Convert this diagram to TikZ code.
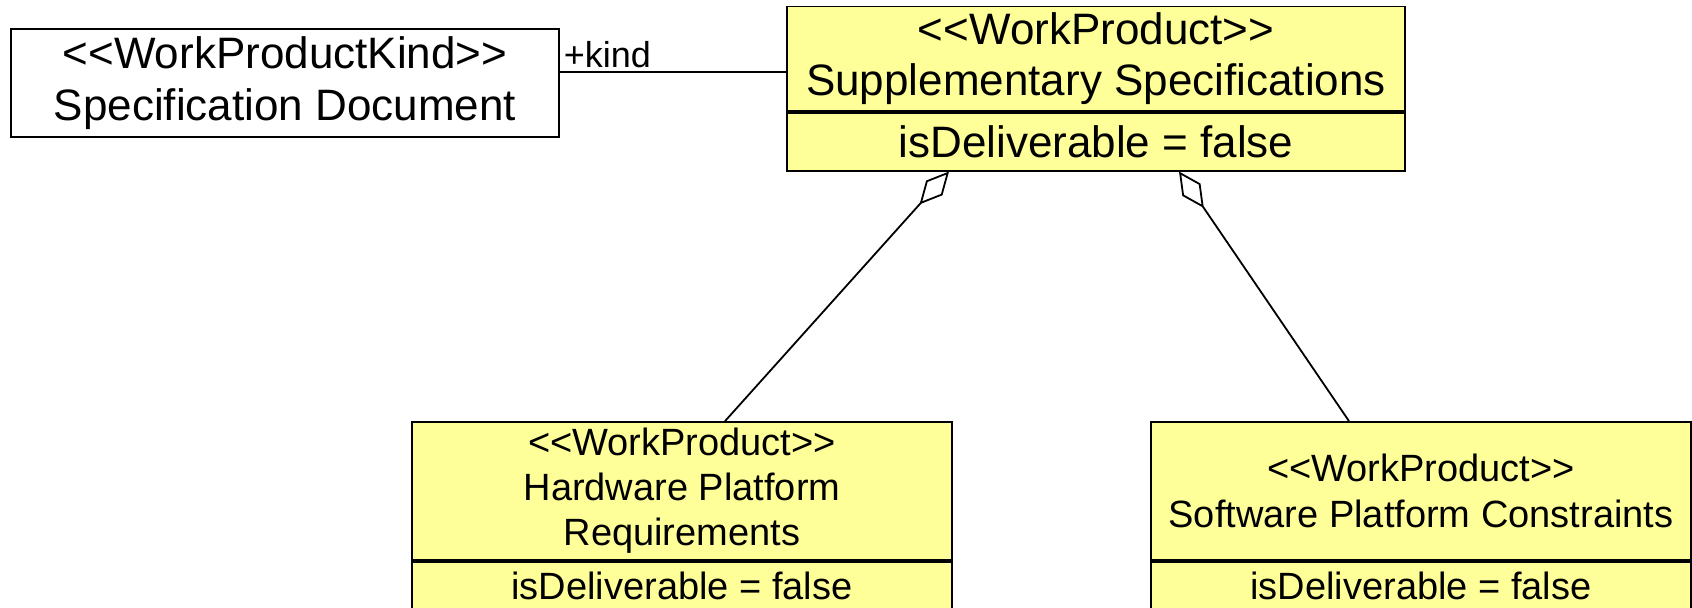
\documentclass[tikz,border=0pt]{standalone}
\usepackage{fontspec}
\setmainfont{Liberation Sans}
\usetikzlibrary{arrows.meta}
\definecolor{wpyellow}{RGB}{255,255,153}
\newcommand{\stereo}[1]{<{}<#1>{}>}
\tikzset{
  classbox/.style={draw, line width=0.85pt, rectangle, align=center, inner sep=0pt},
  wpbox/.style={classbox, fill=wpyellow},
  attrbox/.style={wpbox, anchor=north, minimum height=29pt},
  aggr/.style={line width=0.9pt, -{Diamond[open, length=22pt, width=11pt, line width=0.9pt]}}
}
\begin{document}
\begin{tikzpicture}[x=0.5pt, y=0.5pt]
\useasboundingbox (0,0) rectangle (1692,608);
\node[classbox, minimum width=274pt, minimum height=54pt, font=\fontsize{22}{26}\selectfont] (specdoc) at (285,525) {\stereo{WorkProductKind}\\Specification Document};
\node[wpbox, minimum width=309pt, minimum height=52.25pt, font=\fontsize{22}{25.5}\selectfont] (supp) at (1096,549.25) {\stereo{WorkProduct}\\Supplementary Specifications};
\node[attrbox, minimum width=309pt, font=\fontsize{22}{25.5}\selectfont] (suppattr) at (supp.south) {isDeliverable = false};
\node[wpbox, minimum width=270pt, minimum height=69pt, font=\fontsize{19}{22.5}\selectfont] (hw) at (682,117) {\stereo{WorkProduct}\\Hardware Platform\\Requirements};
\node[attrbox, minimum width=270pt, minimum height=24pt, font=\fontsize{19}{22.5}\selectfont] (hwattr) at (hw.south) {isDeliverable = false};
\node[wpbox, minimum width=270pt, minimum height=69pt, font=\fontsize{19}{23}\selectfont] (sw) at (1421,117) {\stereo{WorkProduct}\\Software Platform Constraints};
\node[attrbox, minimum width=270pt, minimum height=24pt, font=\fontsize{19}{22.5}\selectfont] (swattr) at (sw.south) {isDeliverable = false};
% association
\draw[line width=0.9pt] ([yshift=5.5pt]specdoc.east) -- ([yshift=5.5pt]specdoc.east -| supp.west)
  node[pos=0, above right, inner sep=1.5pt, font=\fontsize{18}{20}\selectfont] {+kind};
% aggregations
\foreach \part/\partdx/\wholedx in {hw/21.5pt/-73.5pt, sw/-36pt/41.5pt}
{
  \draw[aggr] ([xshift=\partdx]\part.north) -- ([xshift=\wholedx]suppattr.south);
}
\end{tikzpicture}
\end{document}
